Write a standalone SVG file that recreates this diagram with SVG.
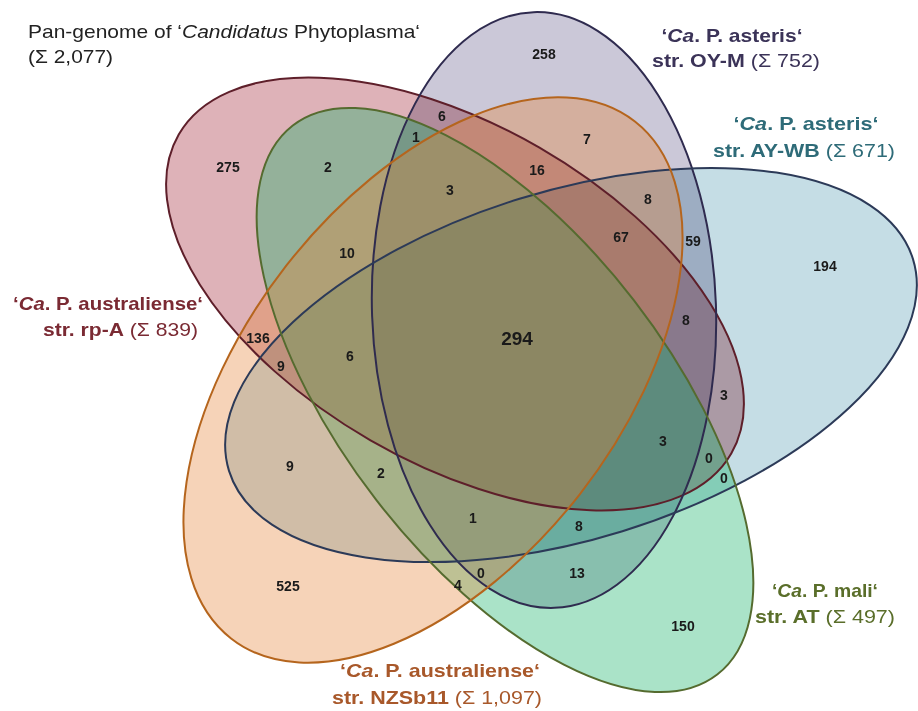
<svg xmlns="http://www.w3.org/2000/svg" width="918" height="711" viewBox="0 0 918 711">
<style>
.mul{mix-blend-mode:multiply;stroke:none}
.nor{fill-opacity:0.35;stroke:none}
.edge{fill:none;stroke-width:2}
.num{font-family:"Liberation Sans",Arial,sans-serif;font-weight:bold;font-size:14px;fill:#1a1a1a;text-anchor:middle}
.lab{font-family:"Liberation Sans",Arial,sans-serif;font-size:19px}
.b{font-weight:bold}
.i{font-style:italic}
.title{font-family:"Liberation Sans",Arial,sans-serif;font-size:19px;fill:#222}
</style>
<defs>
<ellipse id="e-rpA" cx="455" cy="294" rx="319" ry="169" transform="rotate(30 455 294)"/>
<ellipse id="e-mali" cx="505" cy="400" rx="347" ry="163" transform="rotate(52.3 505 400)"/>
<ellipse id="e-OYM" cx="544" cy="310" rx="172" ry="298" transform="rotate(-2 544 310)"/>
<ellipse id="e-AYWB" cx="571" cy="365" rx="358" ry="174" transform="rotate(-17.2 571 365)"/>
<ellipse id="e-NZSb11" cx="433" cy="380" rx="328" ry="186" transform="rotate(-52 433 380)"/>
</defs>
<rect width="918" height="711" fill="#ffffff"/>
<g id="sets">
<g id="set-rpA"><use href="#e-rpA" class="mul" fill="#deb2b8"/></g>
<g id="set-OYM"><use href="#e-OYM" class="mul" fill="#cbc8d8"/></g>
<g id="set-AYWB"><use href="#e-AYWB" class="mul" fill="#c5dde5"/></g>
<g id="set-mali"><use href="#e-mali" class="nor" fill="#0caf62"/></g>
<g id="set-NZSb11"><use href="#e-NZSb11" class="nor" fill="#e58134"/></g>
</g>
<g id="outlines">
<use href="#e-rpA" class="edge" stroke="#5e1f2a"/>
<use href="#e-OYM" class="edge" stroke="#2f2b4f"/>
<use href="#e-AYWB" class="edge" stroke="#2c3a58"/>
<use href="#e-mali" class="edge" stroke="#556b2f"/>
<use href="#e-NZSb11" class="edge" stroke="#b5651d"/>
</g>
<g id="connectors"></g>
<g id="labels">
<text class="title" x="28" y="38" textLength="392" lengthAdjust="spacingAndGlyphs">Pan-genome of ‘<tspan class="i">Candidatus</tspan> Phytoplasma‘</text>
<text class="title" x="28" y="63" textLength="85" lengthAdjust="spacingAndGlyphs">(Σ 2,077)</text>
<g fill="#3b3358">
<text class="lab b" x="732" y="42" text-anchor="middle" textLength="141" lengthAdjust="spacingAndGlyphs">‘<tspan class="i">Ca</tspan>. P. asteris‘</text>
<text class="lab" x="736" y="67" text-anchor="middle" textLength="168" lengthAdjust="spacingAndGlyphs"><tspan class="b">str. OY-M</tspan> (Σ 752)</text>
</g>
<g fill="#2e6b78">
<text class="lab b" x="806" y="130" text-anchor="middle" textLength="145" lengthAdjust="spacingAndGlyphs">‘<tspan class="i">Ca</tspan>. P. asteris‘</text>
<text class="lab" x="804" y="157" text-anchor="middle" textLength="182" lengthAdjust="spacingAndGlyphs"><tspan class="b">str. AY-WB</tspan> (Σ 671)</text>
</g>
<g fill="#7a2a33">
<text class="lab b" x="203" y="310" text-anchor="end" textLength="190" lengthAdjust="spacingAndGlyphs">‘<tspan class="i">Ca</tspan>. P. australiense‘</text>
<text class="lab" x="198" y="336" text-anchor="end" textLength="155" lengthAdjust="spacingAndGlyphs"><tspan class="b">str. rp-A</tspan> (Σ 839)</text>
</g>
<g fill="#5a6e2a">
<text class="lab b" x="825" y="597" text-anchor="middle" textLength="106" lengthAdjust="spacingAndGlyphs">‘<tspan class="i">Ca</tspan>. P. mali‘</text>
<text class="lab" x="825" y="623" text-anchor="middle" textLength="140" lengthAdjust="spacingAndGlyphs"><tspan class="b">str. AT</tspan> (Σ 497)</text>
</g>
<g fill="#a8582a">
<text class="lab b" x="440" y="677" text-anchor="middle" textLength="200" lengthAdjust="spacingAndGlyphs">‘<tspan class="i">Ca</tspan>. P. australiense‘</text>
<text class="lab" x="437" y="704" text-anchor="middle" textLength="210" lengthAdjust="spacingAndGlyphs"><tspan class="b">str. NZSb11</tspan> (Σ 1,097)</text>
</g>
</g>
<g id="counts">
<text class="num" x="544" y="59">258</text>
<text class="num" x="442" y="121">6</text>
<text class="num" x="416" y="142">1</text>
<text class="num" x="587" y="144">7</text>
<text class="num" x="228" y="172">275</text>
<text class="num" x="328" y="172">2</text>
<text class="num" x="537" y="175">16</text>
<text class="num" x="450" y="195">3</text>
<text class="num" x="648" y="204">8</text>
<text class="num" x="621" y="242">67</text>
<text class="num" x="693" y="246">59</text>
<text class="num" x="825" y="271">194</text>
<text class="num" x="347" y="258">10</text>
<text class="num" x="258" y="343">136</text>
<text class="num" x="517" y="345" style="font-size:19px">294</text>
<text class="num" x="686" y="325">8</text>
<text class="num" x="350" y="361">6</text>
<text class="num" x="281" y="371">9</text>
<text class="num" x="724" y="400">3</text>
<text class="num" x="663" y="446">3</text>
<text class="num" x="290" y="471">9</text>
<text class="num" x="381" y="478">2</text>
<text class="num" x="709" y="463">0</text>
<text class="num" x="724" y="483">0</text>
<text class="num" x="473" y="523">1</text>
<text class="num" x="579" y="531">8</text>
<text class="num" x="288" y="591">525</text>
<text class="num" x="577" y="578">13</text>
<text class="num" x="458" y="590">4</text>
<text class="num" x="481" y="578">0</text>
<text class="num" x="683" y="631">150</text>
</g>
</svg>
